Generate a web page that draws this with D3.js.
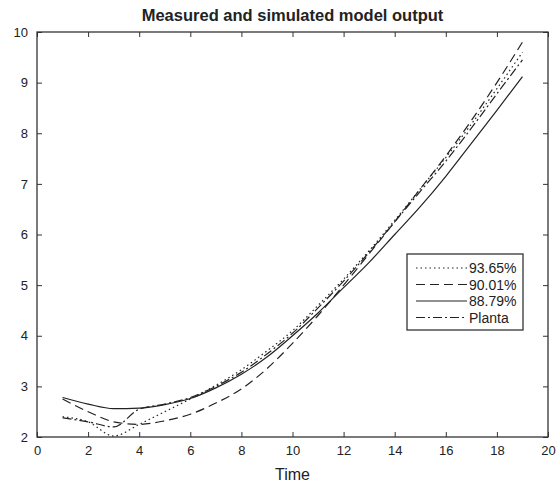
<!DOCTYPE html>
<html>
<head>
<meta charset="utf-8">
<script src="https://cdn.jsdelivr.net/npm/d3@7"></script>
<style>
    body { margin: 0; background: #fff; }
    text { font-family: "Liberation Sans", Arial, sans-serif; fill: #222; }
</style>
</head>
<body>
<div id="chart"></div>
<script>
// x samples (Time)
const time = [1, 2, 3, 4, 5, 6, 7, 8, 9, 10, 11, 12, 13, 14, 15, 16, 17, 18, 19];

// model outputs
const fit9365 = [2.4, 2.3, 2.02, 2.25, 2.5, 2.75, 3.02, 3.33, 3.7, 4.1, 4.6, 5.12, 5.68, 6.28, 6.9, 7.52, 8.18, 8.88, 9.6];
const fit9001 = [2.75, 2.5, 2.3, 2.25, 2.32, 2.45, 2.67, 2.95, 3.35, 3.85, 4.4, 5.0, 5.62, 6.25, 6.9, 7.55, 8.25, 9.0, 9.8];
const fit8879 = [2.78, 2.65, 2.56, 2.57, 2.64, 2.76, 2.97, 3.24, 3.58, 4.0, 4.45, 4.95, 5.45, 6.0, 6.55, 7.15, 7.8, 8.45, 9.12];
const planta  = [2.38, 2.3, 2.2, 2.55, 2.65, 2.78, 3.0, 3.28, 3.64, 4.05, 4.55, 5.08, 5.65, 6.25, 6.85, 7.45, 8.1, 8.78, 9.45];

const seriesNames = ['93.65%', '90.01%', '88.79%', 'Planta'];
const seriesValues = [fit9365, fit9001, fit8879, planta];
const dashes = ['1.5,3', '9,5', null, '9,3,2,3'];

const xTicks = [0, 2, 4, 6, 8, 10, 12, 14, 16, 18, 20];
const yTicks = [2, 3, 4, 5, 6, 7, 8, 9, 10];

const width = 560, height = 484;
const margin = { top: 32, right: 12, bottom: 47, left: 37 };
const innerW = width - margin.left - margin.right;
const innerH = height - margin.top - margin.bottom;

const svg = d3.select('#chart').append('svg')
    .attr('width', width)
    .attr('height', height);

const x = d3.scaleLinear().domain([0, 20]).range([0, innerW]);
const y = d3.scaleLinear().domain([2, 10]).range([innerH, 0]);

const chart = svg.append('g')
    .attr('transform', `translate(${margin.left}, ${margin.top})`);

// axes: ticks point inward, on all four sides like a boxed plot
const axisStyle = g => {
    g.selectAll('.domain').remove();
    g.selectAll('line').attr('stroke', '#333');
    g.selectAll('text').style('font-size', '13px').attr('fill', '#333');
};

chart.append('g')
    .attr('transform', `translate(0, ${innerH})`)
    .call(d3.axisBottom(x).tickValues(xTicks).tickSizeInner(-5).tickSizeOuter(0).tickPadding(9))
    .call(axisStyle);

chart.append('g')
    .call(d3.axisLeft(y).tickValues(yTicks).tickSizeInner(-5).tickSizeOuter(0).tickPadding(9))
    .call(axisStyle);

chart.append('g')
    .call(d3.axisTop(x).tickValues(xTicks).tickSizeInner(-5).tickSizeOuter(0).tickFormat(''))
    .call(axisStyle);

chart.append('g')
    .attr('transform', `translate(${innerW}, 0)`)
    .call(d3.axisRight(y).tickValues(yTicks).tickSizeInner(-5).tickSizeOuter(0).tickFormat(''))
    .call(axisStyle);

chart.append('rect')
    .attr('width', innerW)
    .attr('height', innerH)
    .attr('fill', 'none')
    .attr('stroke', '#333')
    .attr('stroke-width', 1.3);

// lines
const line = d3.line()
    .x((d, i) => x(time[i]))
    .y(d => y(d))
    .curve(d3.curveMonotoneX);

seriesValues.forEach((vals, i) => {
    chart.append('path')
        .datum(vals)
        .attr('fill', 'none')
        .attr('stroke', '#222')
        .attr('stroke-width', 1.2)
        .attr('stroke-dasharray', dashes[i])
        .attr('d', line);
});

// title
svg.append('text')
    .attr('x', margin.left + innerW / 2)
    .attr('y', 21)
    .attr('text-anchor', 'middle')
    .style('font-size', '16.5px')
    .style('font-weight', 'bold')
    .text('Measured and simulated model output');

// x label
svg.append('text')
    .attr('x', margin.left + innerW / 2)
    .attr('y', 480)
    .attr('text-anchor', 'middle')
    .style('font-size', '16px')
    .text('Time');

// legend
const legend = svg.append('g')
    .attr('transform', 'translate(407, 254)');

legend.append('rect')
    .attr('width', 116)
    .attr('height', 76)
    .attr('fill', '#fff')
    .attr('stroke', '#333')
    .attr('stroke-width', 1.3);

seriesNames.forEach((name, i) => {
    const ly = 14 + i * 16.5;
    legend.append('line')
        .attr('x1', 9).attr('x2', 60)
        .attr('y1', ly).attr('y2', ly)
        .attr('stroke', '#222')
        .attr('stroke-width', 1.2)
        .attr('stroke-dasharray', dashes[i]);
    legend.append('text')
        .attr('x', 62)
        .attr('y', ly + 5)
        .style('font-size', '14px')
        .text(name);
});
</script>
</body>
</html>
